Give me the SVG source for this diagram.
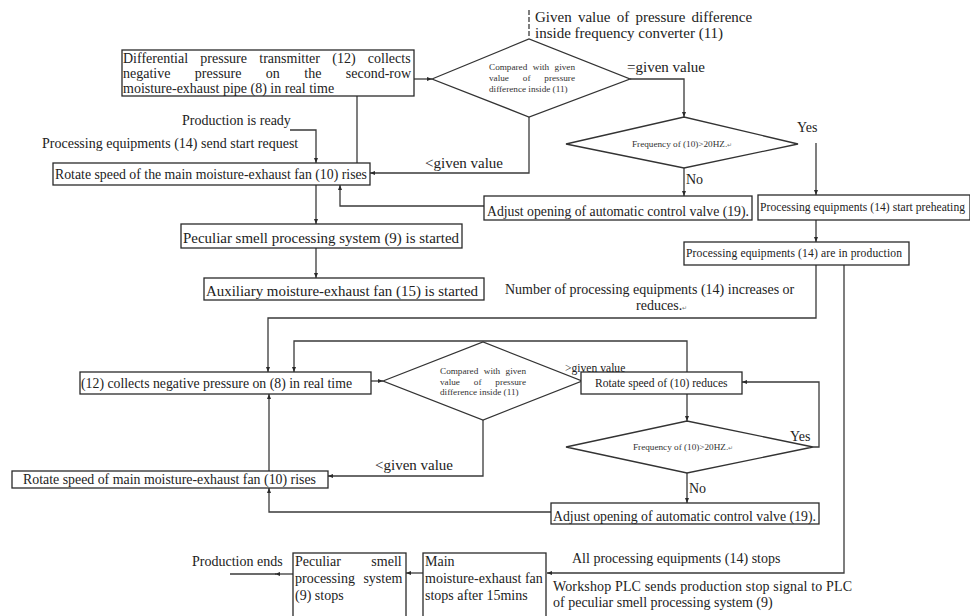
<svg xmlns="http://www.w3.org/2000/svg" width="970" height="616" viewBox="0 0 970 616">
  <defs>
    <marker id="arr" viewBox="0 0 10 10" refX="10" refY="5" markerWidth="5" markerHeight="5" orient="auto-start-reverse" markerUnits="userSpaceOnUse">
      <path d="M0,1 L10,5 L0,9 z" fill="#2a2a2a"/>
    </marker>
    <style>
      .box { fill: #fff; stroke: #2a2a2a; stroke-width: 1.3; }
      .dia { fill: #fff; stroke: #333; stroke-width: 1.3; }
      .ln { fill: none; stroke: #3a3a3a; stroke-width: 1.3; }
      .arw { marker-end: url(#arr); }
      .t { font-family: "Liberation Serif", "Times New Roman", serif; fill: #222; }
      .s15 { font-size: 15px; }
      .s14 { font-size: 14px; }
      .s11 { font-size: 11.6px; }
      .s9 { font-size: 9.2px; fill: #333; }
      .mk { font-size: 6px; fill: #777; }
    </style>
  </defs>
  <rect width="970" height="616" fill="#fff"/>

  <!-- connectors -->
  <g id="connectors">
    <line class="ln" x1="529" y1="10" x2="529" y2="38" stroke-dasharray="5,2"/>
    <line class="ln arw" x1="414" y1="79" x2="432" y2="79"/>
    <polyline class="ln arw" points="630,79 684,79 684,117"/>
    <polyline class="ln arw" points="529,117 529,173 370,173"/>
    <line class="ln" x1="357" y1="96" x2="357" y2="163"/>
    <polyline class="ln arw" points="290,130 316,130 316,163"/>
    <line class="ln arw" x1="316" y1="185" x2="316" y2="224"/>
    <polyline class="ln arw" points="484,206 340,206 340,185"/>
    <line class="ln arw" x1="684" y1="168" x2="684" y2="196"/>
    <line class="ln arw" x1="816" y1="143" x2="816" y2="195"/>
    <line class="ln arw" x1="816" y1="220" x2="816" y2="242"/>
    <line class="ln arw" x1="316" y1="248" x2="316" y2="278"/>
    <polyline class="ln arw" points="816,265 816,318 268,318 268,372"/>
    <polyline class="ln arw" points="844,265 844,573 547,573"/>
    <polyline class="ln arw" points="687,372 687,341 294,341 294,372"/>
    <line class="ln arw" x1="371" y1="381" x2="383" y2="381"/>
    <line class="ln arw" x1="687" y1="394" x2="687" y2="421"/>
    <polyline class="ln arw" points="813,447 819,447 819,382 742,382"/>
    <line class="ln arw" x1="687" y1="473" x2="687" y2="503"/>
    <polyline class="ln arw" points="551,512 269,512 269,488"/>
    <line class="ln arw" x1="269" y1="471" x2="269" y2="394"/>
    <polyline class="ln arw" points="483,420 483,476 328,476"/>
    <line class="ln arw" x1="423" y1="573" x2="406" y2="573"/>
    <line class="ln arw" x1="293" y1="574" x2="275" y2="574"/>
    <line class="ln" x1="276" y1="574" x2="230" y2="574"/>
  </g>

  <!-- free labels -->
  <g id="labels">
    <text class="t s15" x="535" y="22" word-spacing="2.5">Given value of pressure difference</text>
    <text class="t s15" x="535" y="38">inside frequency converter (11)</text>
    <text class="t s15" x="627" y="72">=given value</text>
    <text class="t s15" x="425" y="168">&lt;given value</text>
    <text class="t s14" x="182" y="125">Production is ready</text>
    <text class="t s14" x="42" y="148">Processing equipments (14) send start request</text>
    <text class="t s14" x="797" y="132">Yes</text>
    <text class="t s14" x="686" y="184">No</text>
    <text class="t s14" x="505" y="294">Number of processing equipments (14) increases or</text>
    <text class="t s14" x="636" y="310">reduces.<tspan class="mk">↵</tspan></text>
    <text class="t s11" x="565" y="372">&gt;given value</text>
    <text class="t s14" x="790" y="441">Yes</text>
    <text class="t s14" x="689" y="493">No</text>
    <text class="t s15" x="375" y="470">&lt;given value</text>
    <text class="t s14" x="192" y="566">Production ends</text>
    <text class="t s14" x="572" y="563">All processing equipments (14) stops</text>
    <text class="t s14" x="553" y="591" textLength="299" lengthAdjust="spacing">Workshop PLC sends production stop signal to PLC</text>
    <text class="t s14" x="553" y="607">of peculiar smell processing system (9)</text>
  </g>

  <!-- upper loop -->
  <g id="n-transmitter">
    <rect class="box" x="122" y="50" width="292" height="46"/>
    <text class="t s14" x="123" y="63" word-spacing="8.8">Differential pressure transmitter (12) collects</text>
    <text class="t s14" x="123" y="78" word-spacing="20.9">negative pressure on the second-row</text>
    <text class="t s14" x="123" y="93">moisture-exhaust pipe (8) in real time</text>
  </g>
  <g id="n-compare-1">
    <polygon class="dia" points="432,79 529,39 630,79 529,117"/>
    <text class="t s9" x="489" y="70" word-spacing="3.2">Compared with given</text>
    <text class="t s9" x="489" y="81" word-spacing="11.6">value of pressure</text>
    <text class="t s9" x="489" y="92">difference inside (11)</text>
  </g>
  <g id="n-freq-1">
    <polygon class="dia" points="566,144 684,117 798,144 684,168"/>
    <text class="t s9" x="632" y="147">Frequency of (10)&gt;20HZ.<tspan class="mk">↵</tspan></text>
  </g>
  <g id="n-rise-1">
    <rect class="box" x="53" y="163" width="317" height="22"/>
    <text class="t s14" x="55" y="179" textLength="312" lengthAdjust="spacingAndGlyphs">Rotate speed of the main moisture-exhaust fan (10) rises</text>
  </g>
  <g id="n-valve-1">
    <rect class="box" x="484" y="196" width="268" height="24"/>
    <text class="t s14" x="487" y="216" textLength="262" lengthAdjust="spacingAndGlyphs">Adjust opening of automatic control valve (19).</text>
  </g>
  <g id="n-preheat">
    <rect class="box" x="758" y="195" width="212" height="25"/>
    <text class="t s11" x="760" y="211" textLength="205" lengthAdjust="spacing">Processing equipments (14) start preheating</text>
  </g>
  <g id="n-odour-start">
    <rect class="box" x="181" y="224" width="281" height="24"/>
    <text class="t s15" x="183" y="243" textLength="276" lengthAdjust="spacingAndGlyphs">Peculiar smell processing system (9) is started</text>
  </g>
  <g id="n-production">
    <rect class="box" x="684" y="242" width="225" height="23"/>
    <text class="t s11" x="686" y="257" textLength="216" lengthAdjust="spacing">Processing equipments (14) are in production</text>
  </g>
  <g id="n-aux-start">
    <rect class="box" x="204" y="278" width="280" height="22"/>
    <text class="t s15" x="206" y="296" textLength="272" lengthAdjust="spacingAndGlyphs">Auxiliary moisture-exhaust fan (15) is started</text>
  </g>

  <!-- lower loop -->
  <g id="n-collect">
    <rect class="box" x="80" y="372" width="291" height="22"/>
    <text class="t s14" x="81" y="388" textLength="271" lengthAdjust="spacingAndGlyphs">(12) collects negative pressure on (8) in real time</text>
  </g>
  <g id="n-compare-2">
    <polygon class="dia" points="383,381 483,342 582,381 483,420"/>
    <text class="t s9" x="440" y="374" word-spacing="3.2">Compared with given</text>
    <text class="t s9" x="440" y="385" word-spacing="11.6">value of pressure</text>
    <text class="t s9" x="440" y="395">difference inside (11)</text>
  </g>
  <g id="n-reduce">
    <rect class="box" x="581" y="372" width="161" height="22"/>
    <text class="t s11" x="595" y="387">Rotate speed of (10) reduces</text>
  </g>
  <g id="n-freq-2">
    <polygon class="dia" points="566,447 687,421 813,447 687,473"/>
    <text class="t s9" x="633" y="450">Frequency of (10)&gt;20HZ.<tspan class="mk">↵</tspan></text>
  </g>
  <g id="n-rise-2">
    <rect class="box" x="12" y="471" width="316" height="17"/>
    <text class="t s14" x="23" y="484" textLength="293" lengthAdjust="spacingAndGlyphs">Rotate speed of main moisture-exhaust fan (10) rises</text>
  </g>
  <g id="n-valve-2">
    <rect class="box" x="551" y="503" width="268" height="21"/>
    <text class="t s14" x="553" y="521" textLength="263" lengthAdjust="spacingAndGlyphs">Adjust opening of automatic control valve (19).</text>
  </g>

  <!-- shutdown -->
  <g id="n-odour-stop">
    <rect class="box" x="293" y="553" width="113" height="70"/>
    <text class="t s14" x="295" y="566" word-spacing="27">Peculiar smell</text>
    <text class="t s14" x="295" y="583" word-spacing="5">processing system</text>
    <text class="t s14" x="295" y="600">(9) stops</text>
  </g>
  <g id="n-fan-stop">
    <rect class="box" x="423" y="553" width="123" height="70"/>
    <text class="t s14" x="425" y="566">Main</text>
    <text class="t s14" x="425" y="583">moisture-exhaust fan</text>
    <text class="t s14" x="425" y="600">stops after 15mins</text>
  </g>
</svg>
